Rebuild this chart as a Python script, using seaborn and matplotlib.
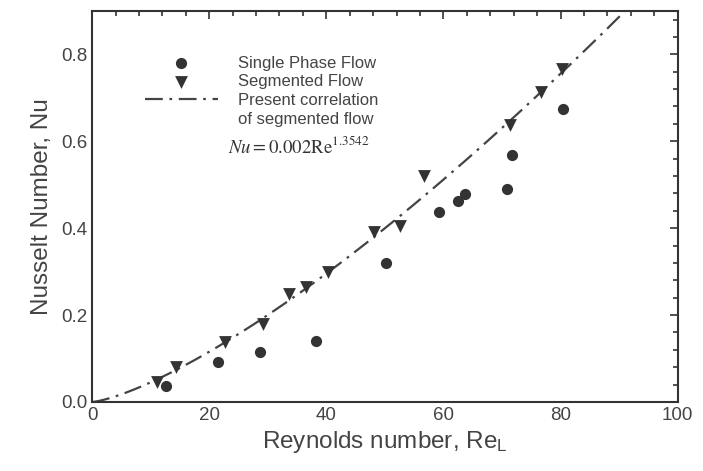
import numpy as np
import pandas as pd
import matplotlib
matplotlib.use("Agg")
import matplotlib.pyplot as plt
from matplotlib.lines import Line2D
from matplotlib.ticker import MultipleLocator, AutoMinorLocator
import seaborn as sns

# Data
seg_re = [11.0, 14.3, 22.7, 29.1, 33.7, 36.6, 40.2, 48.1, 52.6, 56.7, 71.3, 76.7, 80.3]
seg_nu = [0.047, 0.080, 0.137, 0.180, 0.249, 0.264, 0.300, 0.391, 0.406, 0.519, 0.638, 0.713, 0.767]

single_re = [12.6, 21.5, 28.7, 38.2, 50.2, 59.3, 62.4, 63.7, 70.8, 71.7, 80.4]
single_nu = [0.037, 0.093, 0.114, 0.141, 0.320, 0.437, 0.463, 0.479, 0.491, 0.569, 0.673]

corr_coef = 0.002
corr_exp = 1.3542

sns.set_style("white")
plt.rcParams['font.family'] = ['Liberation Sans', 'DejaVu Sans']
plt.rcParams['mathtext.fontset'] = 'stix'

ink = "#333333"
fig = plt.figure(figsize=(7.03, 4.71), dpi=100)
ax = fig.add_axes([0.131, 0.1465, 0.833, 0.8305])

df_single = pd.DataFrame({"Re": single_re, "Nu": single_nu})
df_seg = pd.DataFrame({"Re": seg_re, "Nu": seg_nu})
re_line = np.linspace(0, 100, 400)
df_corr = pd.DataFrame({"Re": re_line, "Nu": corr_coef * re_line ** corr_exp})

sns.scatterplot(data=df_single, x="Re", y="Nu", ax=ax, marker="o", s=65,
                color=ink, edgecolor=ink, linewidth=0, label="Single Phase Flow", zorder=3)
sns.scatterplot(data=df_seg, x="Re", y="Nu", ax=ax, marker="v", s=85,
                color=ink, edgecolor=ink, linewidth=0, label="Segmented Flow", zorder=3)
sns.lineplot(data=df_corr, x="Re", y="Nu", ax=ax, color="#444444", lw=1.6,
             linestyle=(0, (8, 3, 1.2, 3)),
             label="Present correlation", zorder=2)

ax.set_xlim(0, 100)
ax.set_ylim(0, 0.9)
ax.xaxis.set_major_locator(MultipleLocator(20))
ax.yaxis.set_major_locator(MultipleLocator(0.2))
ax.xaxis.set_minor_locator(AutoMinorLocator(5))
ax.yaxis.set_minor_locator(AutoMinorLocator(5))
ax.tick_params(which="both", direction="in", top=True, right=True, colors=ink,
               labelsize=13.5, width=1.2)
ax.tick_params(which="major", length=6)
ax.tick_params(which="minor", length=3.5)
ax.set_yticks([0.0, 0.2, 0.4, 0.6, 0.8])
ax.set_yticklabels(["0.0", "0.2", "0.4", "0.6", "0.8"])
for lab in ax.get_xticklabels() + ax.get_yticklabels():
    lab.set_color("#444444")
for sp in ax.spines.values():
    sp.set_color(ink)
    sp.set_linewidth(1.5)

ax.set_xlabel("Reynolds number, Re$_\\mathregular{L}$", fontsize=17.5, color="#444444", labelpad=4)
ax.set_ylabel("Nusselt Number, Nu", fontsize=17.5, color="#444444", labelpad=6)

handles, labels = ax.get_legend_handles_labels()
handles.append(Line2D([], [], linestyle="none", marker=None))
labels.append("of segmented flow")
leg = ax.legend(handles, labels, loc="upper left", bbox_to_anchor=(0.09, 0.885),
                frameon=False, fontsize=12, handlelength=4.4, handletextpad=1.2,
                labelspacing=0.22, borderpad=0, borderaxespad=0, markerscale=1.0)
for t in leg.get_texts():
    t.set_color("#444444")

ax.text(0.232, 0.652, r"$Nu=0.002\mathrm{Re}^{1.3542}$", transform=ax.transAxes,
        fontsize=13.5, color="#333333", va="center", ha="left")

fig.savefig("out.png", dpi=100)
